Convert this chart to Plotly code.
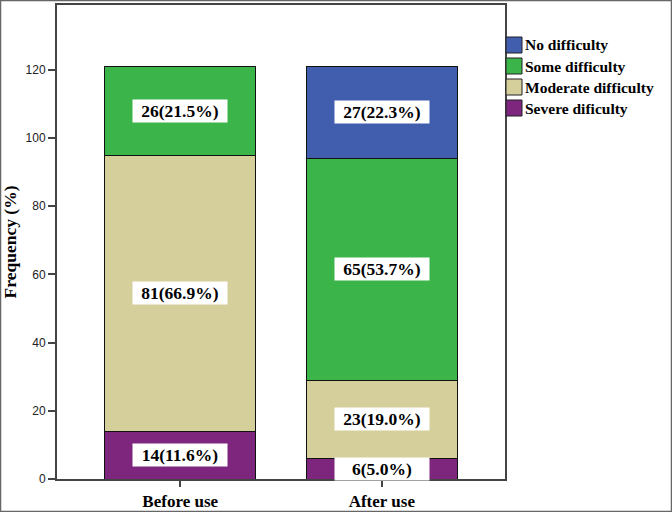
import plotly.graph_objects as go

categories = ["Before use", "After use"]
severe = [14, 6]
moderate = [81, 23]
some = [26, 65]
none_ = [0, 27]

series = [
    ("Severe dificulty", severe, "#7E267E"),
    ("Moderate difficulty", moderate, "#D4CF9B"),
    ("Some difficulty", some, "#3BB44A"),
    ("No difficulty", none_, "#405DAE"),
]
legend_order = ["No difficulty", "Some difficulty", "Moderate difficulty", "Severe dificulty"]
yticks = [0, 20, 40, 60, 80, 100, 120]

totals = [sum(s[1][i] for s in series) for i in range(len(categories))]

serif = "Liberation Serif"
fig = go.Figure()
for name, vals, col in series:
    fig.add_trace(go.Bar(
        x=categories, y=vals, name=name, width=0.75,
        marker=dict(color=col, line=dict(color="#111", width=1)),
        showlegend=False, hoverinfo="skip"))

# value labels
for i, cat in enumerate(categories):
    base = 0
    for name, vals, col in series:
        v = vals[i]
        if v > 0:
            pct = v / totals[i] * 100
            fig.add_annotation(
                x=cat, y=base + v / 2, xref="x", yref="y",
                text="<b>%d(%.1f%%)</b>" % (v, pct), showarrow=False,
                font=dict(family=serif, size=17.5, color="black"),
                bgcolor="white", borderpad=1, width=92, height=20)
        base += v

# plot geometry (px) for paper conversion
L, R, T, B = 57, 505, 5, 479
W, H = R - L, B - T
def px(xp): return (xp - L) / W
def py(yp): return (B - yp) / H

colmap = {n: c for n, _, c in series}
for k, name in enumerate(legend_order):
    top = 37 + 21 * k
    fig.add_shape(type="rect", xref="paper", yref="paper",
                  x0=px(506), x1=px(522), y0=py(top + 16), y1=py(top),
                  fillcolor=colmap[name], line=dict(color="#222", width=1))
    fig.add_annotation(xref="paper", yref="paper", x=px(523), y=py(top + 8),
                       xanchor="left", yanchor="middle", showarrow=False,
                       text="<b>%s</b>" % name,
                       font=dict(family=serif, size=15.5, color="black"))

# outer border
fig.add_shape(type="rect", xref="paper", yref="paper",
              x0=px(0.5), x1=px(671.5), y0=py(511.5), y1=py(0.5),
              line=dict(color="#666", width=1.5), fillcolor="rgba(0,0,0,0)")

fig.update_layout(
    width=672, height=512, barmode="stack",
    margin=dict(l=L, r=672 - R, t=T, b=512 - B, autoexpand=False),
    plot_bgcolor="white", paper_bgcolor="white",
    xaxis=dict(type="category", range=[-0.611, 1.611], showline=True,
               linecolor="#444", linewidth=2, mirror=True, automargin=False,
               ticks="outside", ticklen=6, tickcolor="#444", tickwidth=2,
               tickvals=categories,
               ticktext=["<b>%s</b>" % c for c in categories],
               tickfont=dict(family=serif, size=17, color="black"),
               showgrid=False),
    yaxis=dict(range=[0, 139], tickvals=yticks, showline=True,
               linecolor="#444", linewidth=2, mirror=True, automargin=False,
               ticks="outside", ticklen=7, tickcolor="#444", tickwidth=2,
               tickfont=dict(family="Liberation Sans", size=12, color="#222"),
               showgrid=False, zeroline=False,
               title=dict(text="<b>Frequency (%)</b>",
                          font=dict(family=serif, size=17.5, color="black"),
                          standoff=8)),
)

fig.write_html("out.html", config={"displayModeBar": False},
               post_script="document.body.style.margin='0';document.body.style.overflow='hidden';")
